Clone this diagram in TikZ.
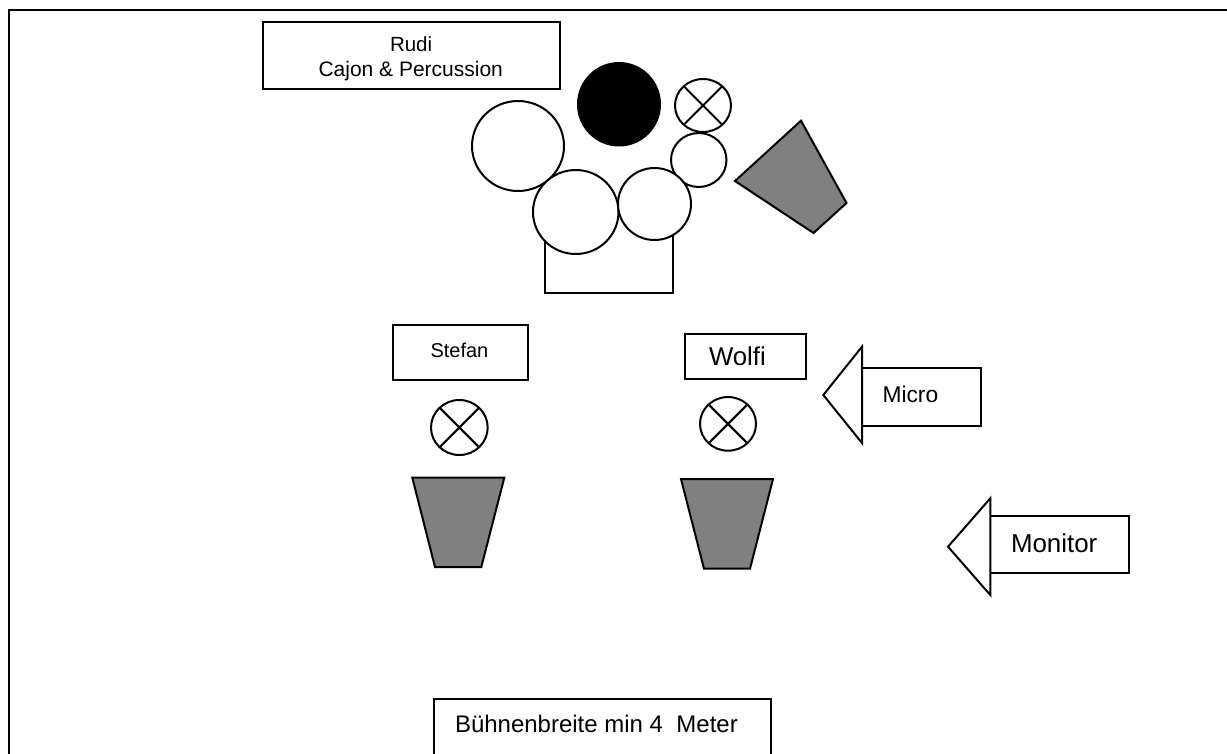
\documentclass[tikz,border=0pt]{standalone}
\usepackage{fontspec}
\setmainfont{Liberation Sans}
\usetikzlibrary{shapes.geometric}
\tikzset{
  x=1pt,y=-1pt,
  ln/.style={line width=2pt,draw=black,line join=miter},
  drum/.style={ln,shape=ellipse,fill=white,inner sep=0pt,outer sep=0pt},
  mic/.style={drum},
  lbl/.style={anchor=base west,inner sep=0pt,outer sep=0pt,text=black},
  spk/.style={ln,fill=spkgray},
}
\definecolor{spkgray}{HTML}{808080}
\newcommand{\ovalat}[6][drum]{\node[#1,minimum width=#5-#3,minimum height=#6-#4] (#2) at ({(#3+#5)/2},{(#4+#6)/2}) {};}
\newcommand{\micat}[5]{\ovalat[mic]{#1}{#2}{#3}{#4}{#5}\draw[ln] (#1.45)--(#1.225) (#1.135)--(#1.315);}
\begin{document}
\begin{tikzpicture}
\path[use as bounding box] (0,0) rectangle (1227,753);
\clip (0,0) rectangle (1227,753);
\fill[white] (0,0) rectangle (1227,753);
% stage frame
\coordinate (fbl) at (9,760);
\coordinate (ftl) at (9,10);
\coordinate (ftr) at (1235,10);
\draw[ln,line width=2.5pt] (fbl)--(ftl)--(ftr);
% Rudi
\draw[ln] (263,21.5) rectangle (560,89);
\node[lbl,font=\fontsize{20.5}{24}\selectfont] (rudi) at (390,51.7) {Rudi};
\node[lbl,font=\fontsize{21}{24}\selectfont] (cajon) at (318.5,76) {Cajon \& Percussion};
% kit
\draw[ln] (544.6,225)--(544.6,293)--(673,293)--(673,225);
\ovalat[ln,shape=ellipse,fill=black,inner sep=0pt]{snare}{578}{63}{660}{145.5}
\micat{mkit}{675}{79}{731}{132}
\ovalat{tomL}{472}{101}{564}{191}
\ovalat{tomS}{671}{133}{726.5}{187}
\ovalat{tomM}{533}{170}{618.5}{254}
\ovalat{tomR}{618}{168}{691}{240}
\coordinate (qa) at (801,120.7);
\coordinate (qb) at (846.5,203);
\coordinate (qc) at (813.5,233);
\coordinate (qd) at (735,181);
\draw[spk] (qa)--(qb)--(qc)--(qd)--cycle;
% Stefan
\draw[ln] (392.7,324.7) rectangle (528,380);
\node[lbl,font=\fontsize{20}{24}\selectfont] (stefan) at (430.5,357) {Stefan};
\micat{m1}{431}{400}{487.7}{455}
\coordinate (sa) at (412.3,477.7);
\coordinate (sb) at (504.3,477.7);
\coordinate (sc) at (481.3,567);
\coordinate (sd) at (435,567);
\draw[spk] (sa)--(sb)--(sc)--(sd)--cycle;
% Wolfi
\draw[ln] (685,334) rectangle (806,379);
\node[lbl,font=\fontsize{25.8}{28}\selectfont] (wolfi) at (709,365) {Wolfi};
\micat{m2}{700}{397}{756}{450.7}
\coordinate (wa) at (681,479);
\coordinate (wb) at (773,479);
\coordinate (wc) at (750,568.7);
\coordinate (wd) at (704,568.7);
\draw[spk] (wa)--(wb)--(wc)--(wd)--cycle;
% Micro
\draw[ln] (862,346.7)--(823.3,395)--(862,443)--cycle;
\draw[ln] (862,368.3)--(980.7,368.3)--(980.7,426)--(862,426);
\node[lbl,font=\fontsize{22.8}{26}\selectfont] (micro) at (882.5,402.7) {Micro};
% Monitor
\draw[ln] (990.3,498.3)--(948,546.7)--(990.3,595)--cycle;
\draw[ln] (990.3,515.7)--(1129,515.7)--(1129,573.3)--(990.3,573.3);
\node[lbl,font=\fontsize{25.9}{28}\selectfont] (monitor) at (1011,552.7) {Monitor};
% Width
\draw[ln] (433.5,760)--(433.5,698.5)--(771,698.5)--(771,760);
\node[lbl,font=\fontsize{24}{26}\selectfont] (width) at (455,732.7) {Bühnenbreite min 4 \ Meter};
\end{tikzpicture}
\end{document}
